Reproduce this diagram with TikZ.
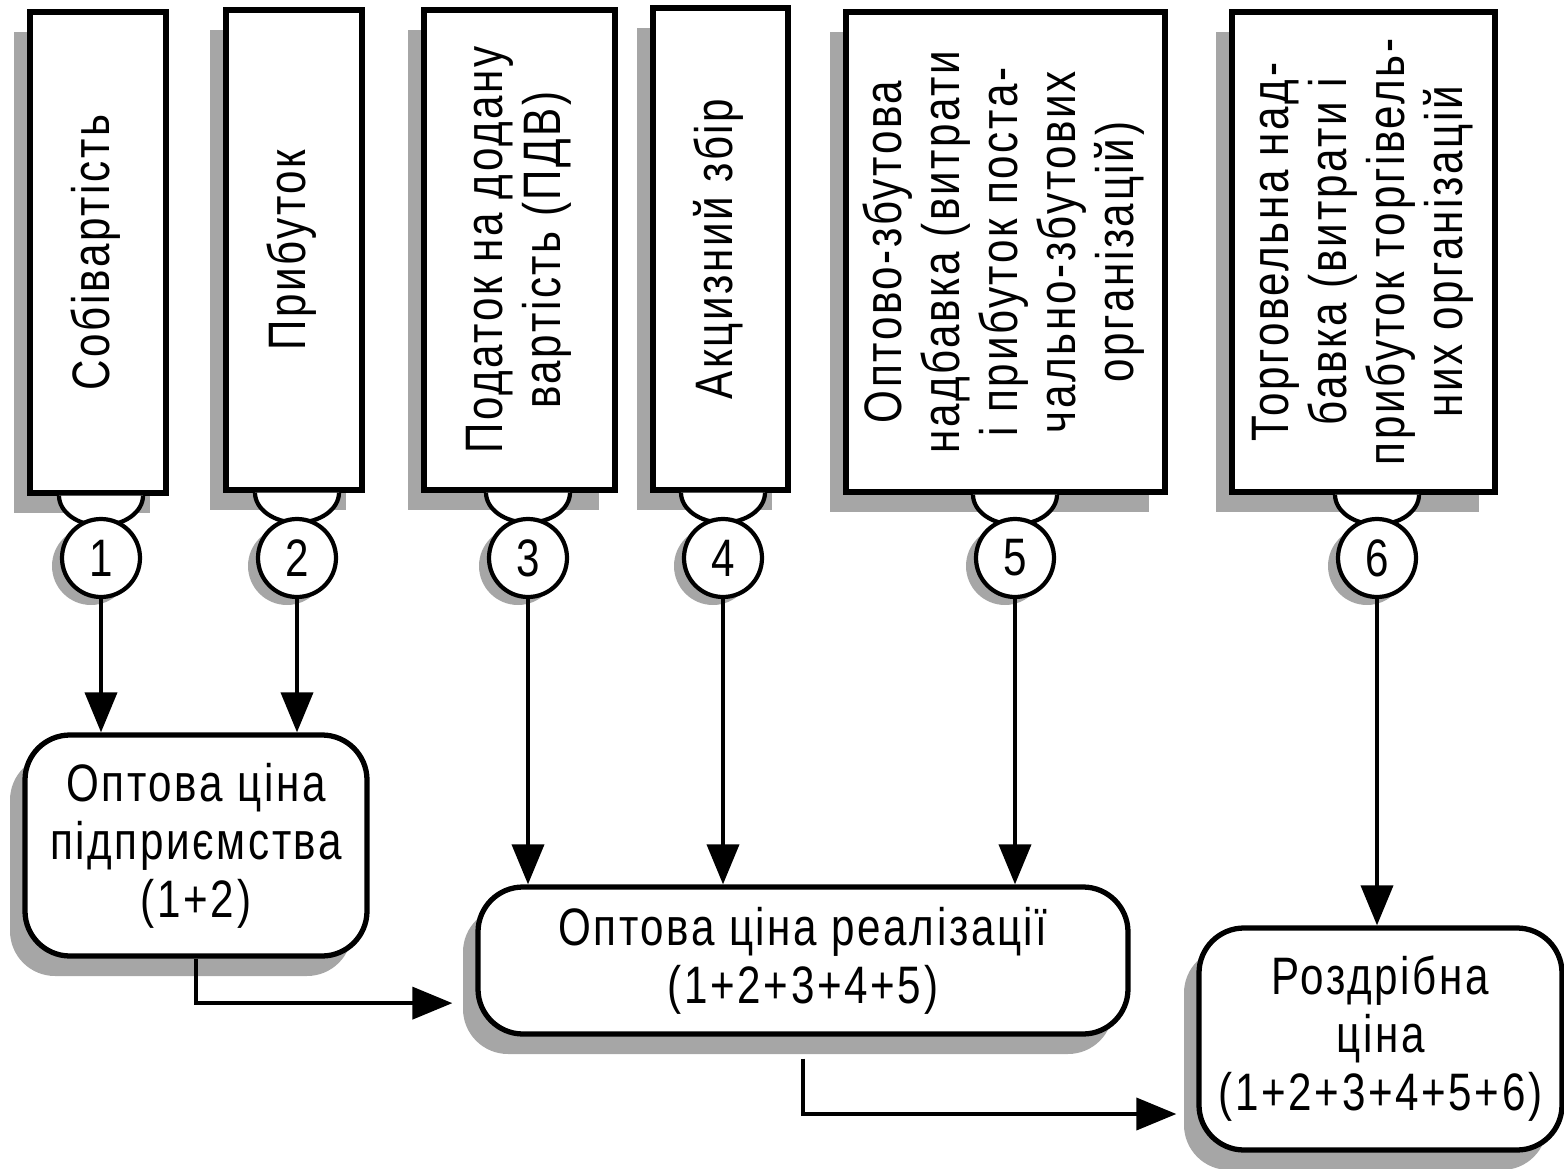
\documentclass[tikz,border=0pt]{standalone}
\usepackage{graphicx}
\usepackage{fontspec}
\setmainfont[FakeStretch=0.8,LetterSpace=5]{Liberation Sans}
\usetikzlibrary{arrows.meta, positioning, calc, shadows}

\newcommand{\vtext}[1]{\rotatebox{90}{\begin{tabular}{@{}c@{}}#1\end{tabular}}}

\begin{document}
\begin{tikzpicture}[>={Triangle[length=0.4cm, width=0.32cm]},
    every node/.style={font=\fontsize{15}{16.5}\selectfont},
    part/.style={draw, line width=1.5pt, fill=white, inner sep=0pt,
      drop shadow={shadow xshift=-0.16cm, shadow yshift=-0.2cm, fill=gray!70, opacity=1}},
    num/.style={circle, draw, line width=1.2pt, fill=white, minimum size=0.78cm, inner sep=0pt,
      drop shadow={shadow xshift=-0.1cm, shadow yshift=-0.08cm, fill=gray!70, opacity=1}},
    price/.style={draw, line width=1.5pt, fill=white, rounded corners=0.45cm, align=center,
      inner sep=0pt, drop shadow={shadow xshift=-0.15cm, shadow yshift=-0.2cm, fill=gray!70, opacity=1}},
    cup/.style={line width=1.2pt, fill=white},
    link/.style={->, line width=1.1pt}]
  \useasboundingbox (0,0) rectangle (15.64,-11.69);

  % Price components
  \node[part, minimum width=1.36cm, minimum height=4.81cm] (b1) at (0.98,-2.525) {\vtext{Собівартість}};
  \node[part, minimum width=1.36cm, minimum height=4.80cm] (b2) at (2.94,-2.50) {\vtext{Прибуток}};
  \node[part, minimum width=1.91cm, minimum height=4.80cm] (b3) at (5.195,-2.50)
    {\vtext{Податок на додану\\вартість (ПДВ)}};
  \node[part, minimum width=1.35cm, minimum height=4.82cm] (b4) at (7.205,-2.49) {\vtext{Акцизний збір}};
  \node[part, minimum width=3.19cm, minimum height=4.80cm] (b5) at (10.055,-2.52)
    {\vtext{Оптово-збутова\\надбавка (витрати\\і прибуток поста-\\чально-збутових\\організацій)}};
  \node[part, minimum width=2.63cm, minimum height=4.80cm] (b6) at (13.635,-2.52)
    {\vtext{Торговельна над-\\бавка (витрати і\\прибуток торгівель-\\них організацій}};

  % Numbers
  \foreach \i/\x in {1/1.01, 2/2.97, 3/5.28, 4/7.23, 5/10.15, 6/13.77}
    \coordinate (p\i) at (\x,-5.58);
  \foreach \i in {1,...,6}
    \filldraw[cup] ($(b\i.south -| p\i)+(-0.42,0)$) arc[start angle=180, end angle=360, x radius=0.42cm, y radius=0.3cm];
  \foreach \i in {1,...,6}
    \node[num] (c\i) at (p\i) {\i};

  % Prices
  \node[price, minimum width=3.42cm, minimum height=2.21cm] (pa) at (1.96,-8.455)
    {Оптова ціна\\підприємства\\(1+2)};
  \node[price, minimum width=6.50cm, minimum height=1.47cm] (pb) at (8.03,-9.605)
    {Оптова ціна реалізації\\(1+2+3+4+5)};
  \node[price, minimum width=3.63cm, minimum height=2.22cm] (pc) at (13.805,-10.39)
    {Роздрібна\\ціна\\(1+2+3+4+5+6)};

  % Arrows
  \foreach \i in {1,2}
    \draw[link] (c\i.south) -- (c\i.south |- pa.north);
  \foreach \i in {3,4,5}
    \draw[link] (c\i.south) -- (c\i.south |- pb.north);
  \draw[link] (c6.south) -- (c6.south |- pc.north);
  \draw[link, shorten >=0.23cm] (pa.south) |- ($(pb.south west)!0.22!(pb.north west)$);
  \draw[link, shorten <=0.22cm, shorten >=0.2cm] (pb.south) |- ($(pc.south west)!0.17!(pc.north west)$);
\end{tikzpicture}
\end{document}
